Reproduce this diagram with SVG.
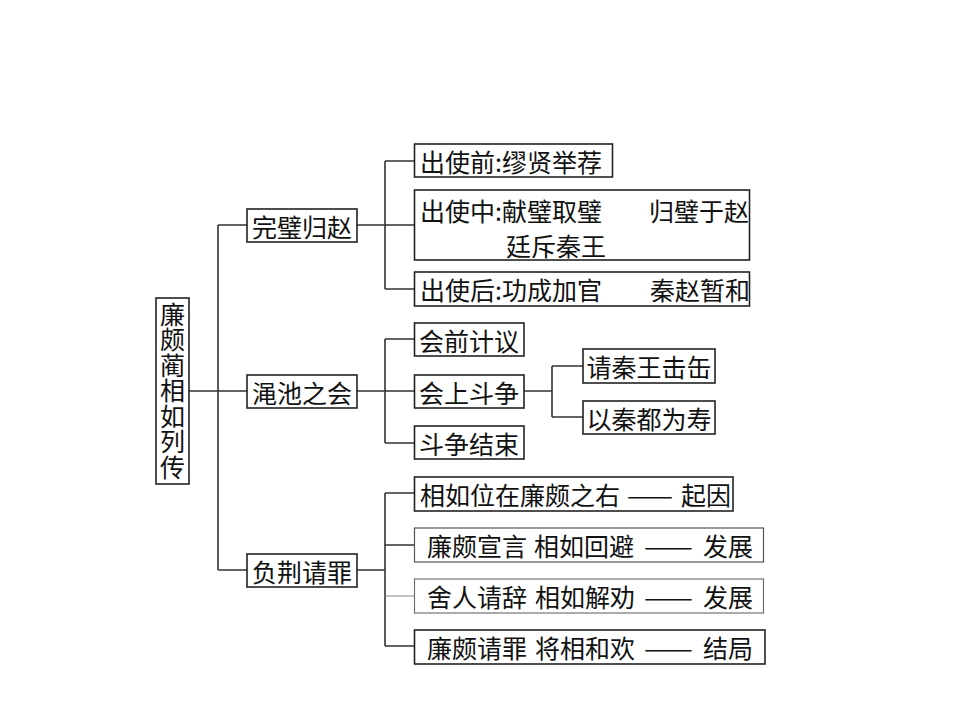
<svg xmlns="http://www.w3.org/2000/svg" width="960" height="720" viewBox="0 0 960 720">
<style>
text{font-family:"Noto Sans CJK SC","Noto Sans CJK TC",sans-serif;font-size:25px;fill:#111;dominant-baseline:central}
.m{text-anchor:middle}
.v{writing-mode:vertical-rl;text-anchor:middle;letter-spacing:0.5px}
.box{fill:#fff;stroke:#222;stroke-width:1.6}
.lt{stroke:#666;stroke-width:1.1}
.con{fill:none;stroke:#333;stroke-width:1.6}
.con2{fill:none;stroke:#999;stroke-width:1.2}
</style>
<rect width="960" height="720" fill="#fff"/>
<g id="connectors">
<path class="con" d="M189,391H218M218,225V570M218,225H247M218,391H247M218,570H247"/>
<path class="con" d="M357,225H414M385,161V289M385,161H414M385,289H414"/>
<path class="con" d="M357,391H414M385,339V443M385,339H414M385,443H414"/>
<path class="con" d="M524,391H552M552,366V417M552,366H583M552,417H583"/>
<path class="con" d="M357,570H385M385,493V646M385,493H414M385,545H414M385,646H414"/>
<path class="con2" d="M385,596H414"/>
</g>
<g id="root"><rect class="box" x="156" y="298" width="33" height="186"/>
<text class="v" x="172.5" y="391">廉颇蔺相如列传</text></g>
<g id="n1"><rect class="box" x="247" y="209" width="110" height="33"/><text class="m" x="302" y="225.5">完璧归赵</text></g>
<g id="n2"><rect class="box" x="247" y="375" width="110" height="33"/><text class="m" x="302" y="391.5">渑池之会</text></g>
<g id="n3"><rect class="box" x="247" y="554" width="110" height="33"/><text class="m" x="302" y="570.5">负荆请罪</text></g>
<g id="n1a"><rect class="box" x="414.5" y="144" width="198" height="33"/><text x="420" y="160.5">出使前:缪贤举荐</text></g>
<g id="n1b"><rect class="box" x="414.5" y="190" width="335" height="70"/><text x="420" y="210">出使中:献璧取璧</text><text x="649" y="210">归璧于赵</text><text x="506" y="245">廷斥秦王</text></g>
<g id="n1c"><rect class="box" x="414.5" y="272" width="335" height="34"/><text x="420" y="289">出使后:功成加官</text><text x="650" y="289">秦赵暂和</text></g>
<g id="n2a"><rect class="box" x="414.5" y="323" width="109.5" height="33"/><text class="m" x="469" y="339.5">会前计议</text></g>
<g id="n2b"><rect class="box" x="414.5" y="375" width="109.5" height="33"/><text class="m" x="469" y="391.5">会上斗争</text></g>
<g id="n2c"><rect class="box" x="414.5" y="426" width="109.5" height="33"/><text class="m" x="469" y="442.5">斗争结束</text></g>
<g id="n2b1"><rect class="box" x="583" y="349" width="132" height="34"/><text class="m" x="649" y="366">请秦王击缶</text></g>
<g id="n2b2"><rect class="box" x="583" y="401" width="132" height="33"/><text class="m" x="649" y="417.5">以秦都为寿</text></g>
<g id="n3a"><rect class="box" x="414.5" y="477" width="318.5" height="34"/><text x="420" y="494">相如位在廉颇之右</text><text x="627" y="494" textLength="46" lengthAdjust="spacingAndGlyphs">——</text><text x="681" y="494">起因</text></g>
<g id="n3b"><rect class="box" x="414.5" y="528" width="349" height="34" style="stroke:#555;stroke-width:1.2"/><text x="427" y="545">廉颇宣言</text><text x="534" y="545">相如回避</text><text x="644" y="545" textLength="49" lengthAdjust="spacingAndGlyphs">——</text><text x="703" y="545">发展</text></g>
<g id="n3c"><rect class="box lt" x="414.5" y="579" width="349" height="34"/><text x="427" y="596">舍人请辞</text><text x="535" y="596">相如解劝</text><text x="644" y="596" textLength="49" lengthAdjust="spacingAndGlyphs">——</text><text x="703" y="596">发展</text></g>
<g id="n3d"><rect class="box" x="414.5" y="630" width="350.5" height="34"/><text x="427" y="647">廉颇请罪</text><text x="535" y="647">将相和欢</text><text x="644" y="647" textLength="49" lengthAdjust="spacingAndGlyphs">——</text><text x="703" y="647">结局</text></g>
</svg>
